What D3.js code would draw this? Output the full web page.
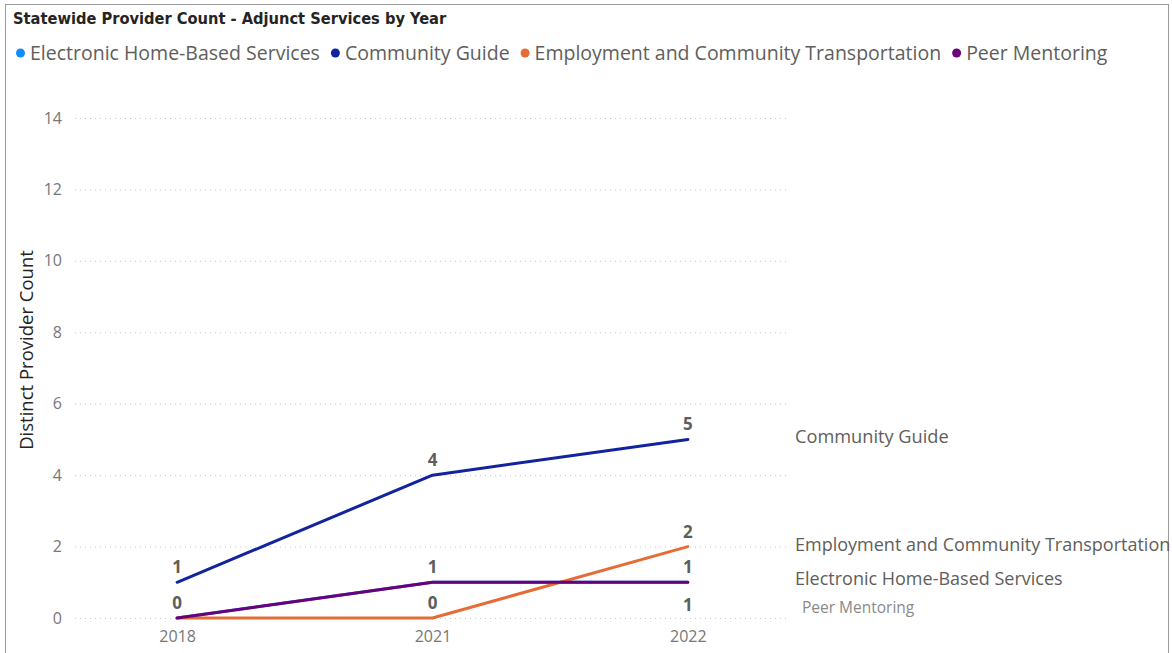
<!DOCTYPE html>
<html>
<head>
<meta charset="utf-8">
<script src="https://cdn.jsdelivr.net/npm/d3@7"></script>
<style>
  body { margin: 0; background: #fff; }
  svg { display: block; font-family: "Open Sans", "Noto Sans", sans-serif; }
</style>
</head>
<body>
<div id="chart"></div>
<script>
// data
const years = ["2018", "2021", "2022"];
const seriesNames = [
  "Electronic Home-Based Services",
  "Community Guide",
  "Employment and Community Transportation",
  "Peer Mentoring"
];
const electronicHome = [0, 1, 1];
const communityGuide = [1, 4, 5];
const employmentTransport = [0, 0, 2];
const peerMentoring = [0, 1, 1];
const yTicks = [0, 2, 4, 6, 8, 10, 12, 14];

const colors = ["#118DFF", "#12239E", "#E66C37", "#6B007B"];
const values = [electronicHome, communityGuide, employmentTransport, peerMentoring];

const width = 1172, height = 653;
const margin = { left: 75, right: 382, top: 118, bottom: 35 };

const svg = d3.select("#chart").append("svg")
  .attr("width", width).attr("height", height);

// frame
svg.append("rect")
  .attr("x", 5.5).attr("y", 4.5)
  .attr("width", width - 9).attr("height", height + 10)
  .attr("fill", "none").attr("stroke", "#9a9a9a").attr("stroke-width", 1);

svg.append("text")
  .attr("x", 13).attr("y", 24)
  .attr("font-family", "'DejaVu Sans Condensed', 'Roboto Condensed', sans-serif")
  .attr("font-size", 16.3).attr("font-weight", "bold").attr("fill", "#252423")
  .text("Statewide Provider Count - Adjunct Services by Year");

// legend
let lx = 16;
seriesNames.forEach((name, i) => {
  const g = svg.append("g").attr("transform", `translate(${lx},53)`);
  g.append("circle").attr("cx", 4.5).attr("cy", 0).attr("r", 4.5).attr("fill", colors[i]);
  const t = g.append("text").attr("x", 14).attr("y", 7)
    .attr("font-size", 19.5).attr("fill", "#605E5C").text(name);
  lx += 14 + t.node().getComputedTextLength() + 11;
});

const x = d3.scalePoint().domain(years)
  .range([margin.left, width - margin.right]).padding(0.4);
const y = d3.scaleLinear().domain([0, 14])
  .range([height - margin.bottom, margin.top]);

// gridlines
svg.append("g").selectAll("line").data(yTicks).join("line")
  .attr("x1", margin.left).attr("x2", width - margin.right)
  .attr("y1", d => y(d) + 0.5).attr("y2", d => y(d) + 0.5)
  .attr("stroke", "#c8c8c8").attr("stroke-width", 1).attr("stroke-dasharray", "1,4");

// y axis
const yAxis = svg.append("g")
  .attr("transform", `translate(${margin.left - 13},0)`)
  .call(d3.axisLeft(y).tickValues(yTicks).tickSize(0).tickPadding(0));
yAxis.select(".domain").remove();
yAxis.selectAll("text").attr("font-size", 16).attr("fill", "#777").attr("font-family", "'Open Sans', sans-serif");

svg.append("text")
  .attr("transform", `translate(33,${(margin.top + height - margin.bottom) / 2 - 18}) rotate(-90)`)
  .attr("text-anchor", "middle")
  .attr("font-size", 18.5).attr("fill", "#252423")
  .text("Distinct Provider Count");

// x axis
const xAxis = svg.append("g")
  .attr("transform", `translate(0,${height - margin.bottom + 10})`)
  .call(d3.axisBottom(x).tickSize(0).tickPadding(0));
xAxis.select(".domain").remove();
xAxis.selectAll("text").attr("font-size", 16).attr("fill", "#777").attr("dy", "0.9em")
  .attr("font-family", "'Open Sans', sans-serif");

// lines
const line = d3.line().x((d, i) => x(years[i])).y(d => y(d));
values.forEach((vals, i) => {
  svg.append("path").datum(vals)
    .attr("d", line).attr("fill", "none")
    .attr("stroke", colors[i]).attr("stroke-width", 3)
    .attr("stroke-linejoin", "round").attr("stroke-linecap", "round");
});

// data labels (one per distinct value/year, a second one below when duplicated)
const labelStyle = sel => sel.attr("text-anchor", "middle")
  .attr("font-size", 17).attr("font-weight", "bold").attr("fill", "#605E5C");
years.forEach((yr, j) => {
  const seen = {};
  values.forEach(vals => {
    const v = vals[j];
    seen[v] = (seen[v] || 0) + 1;
  });
  Object.keys(seen).forEach(k => {
    const v = +k;
    svg.append("text").call(labelStyle)
      .attr("x", x(yr)).attr("y", y(v) - 9).text(v);
    if (yr === "2022" && seen[k] > 1) {
      svg.append("text").call(labelStyle)
        .attr("x", x(yr)).attr("y", y(v) + 29).text(v);
    }
  });
});

// end-of-line series labels
const endLabels = [
  { name: "Community Guide", v: communityGuide[2], dy: 4, size: 18.2, fill: "#605E5C", dx: 0 },
  { name: "Employment and Community Transportation", v: employmentTransport[2], dy: 4, size: 18, fill: "#605E5C", dx: 0 },
  { name: "Electronic Home-Based Services", v: electronicHome[2], dy: 3, size: 18, fill: "#605E5C", dx: 0 },
  { name: "Peer Mentoring", v: peerMentoring[2], dy: 31, size: 15.5, fill: "#8a8a8a", dx: 7 }
];
endLabels.forEach(d => {
  svg.append("text")
    .attr("x", width - margin.right + 5 + d.dx).attr("y", y(d.v) + d.dy)
    .attr("font-size", d.size).attr("fill", d.fill).text(d.name);
});
</script>
</body>
</html>
